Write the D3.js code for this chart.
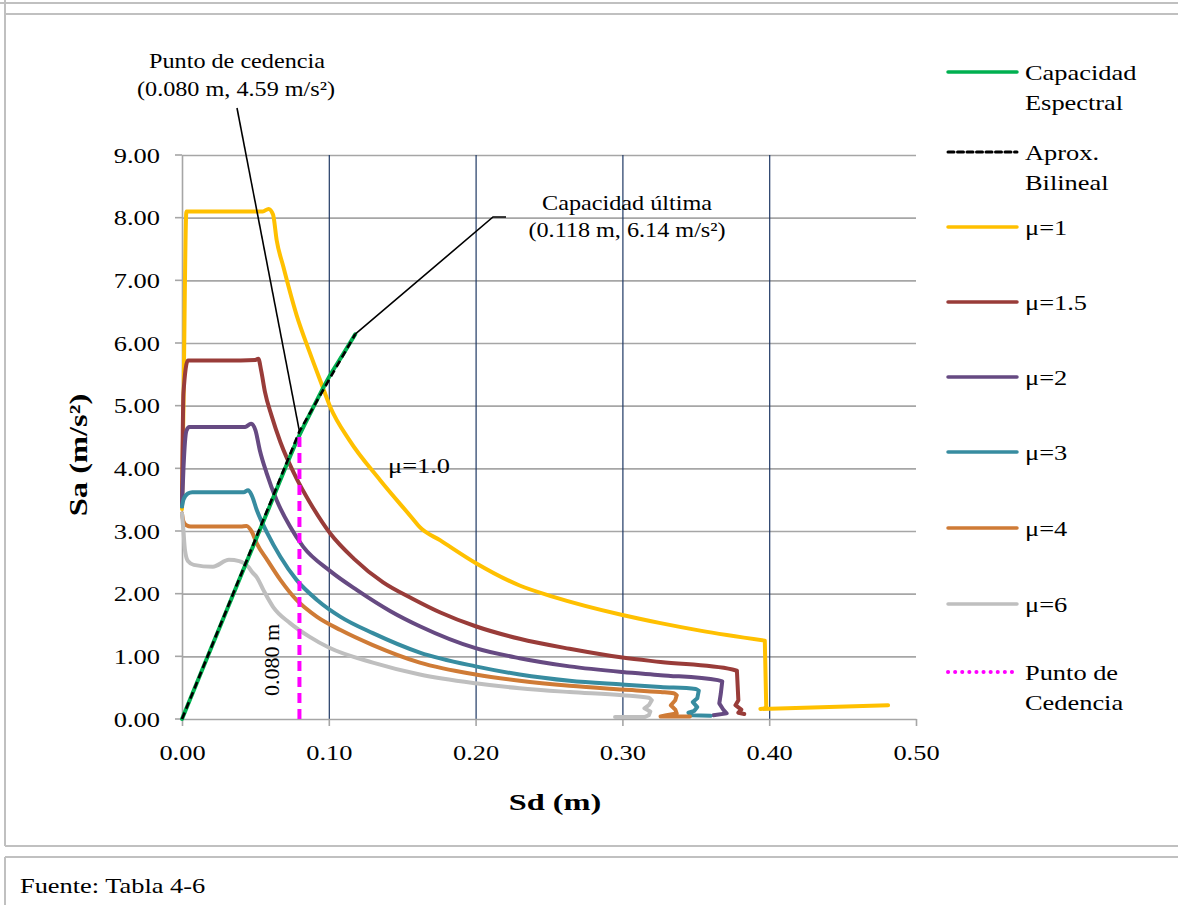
<!DOCTYPE html>
<html>
<head>
<meta charset="utf-8">
<script src="https://cdn.jsdelivr.net/npm/d3@7/dist/d3.min.js"></script>
<style>
  body { margin: 0; background: #fff; }
  text { font-family: "Liberation Serif", "Times New Roman", serif; fill: #000; }
</style>
</head>
<body>
<div class="chart"></div>
<script>
// ---- data ----
const xTicks = [0, 0.1, 0.2, 0.3, 0.4, 0.5];
const yTicks = [0, 1, 2, 3, 4, 5, 6, 7, 8, 9];

const capSd = [0, 0.02, 0.04, 0.06, 0.08, 0.09, 0.10, 0.11, 0.118];
const capSa = [0, 1.14, 2.28, 3.41, 4.53, 5.00, 5.45, 5.83, 6.14];

const bilSd = [0, 0.080, 0.118];
const bilSa = [0, 4.59, 6.14];

const mu1Sd = [0, 0.001, 0.003, 0.03, 0.055, 0.059, 0.062, 0.0645, 0.069, 0.078, 0.087, 0.095, 0.101, 0.114, 0.135, 0.157, 0.162, 0.176, 0.2, 0.23, 0.253, 0.3, 0.326, 0.353, 0.397, 0.398, 0.394, 0.481];
const mu1Sa = [3.35, 5.0, 8.10, 8.10, 8.10, 8.14, 8.05, 7.64, 7.22, 6.45, 5.85, 5.35, 4.98, 4.45, 3.81, 3.20, 3.06, 2.85, 2.49, 2.13, 1.95, 1.66, 1.53, 1.41, 1.25, 0.17, 0.16, 0.22];

const mu15Sd = [0, 0.001, 0.004, 0.03, 0.050, 0.052, 0.054, 0.0565, 0.061, 0.067, 0.078, 0.087, 0.101, 0.117, 0.137, 0.157, 0.176, 0.2, 0.23, 0.264, 0.3, 0.326, 0.375, 0.378, 0.379, 0.377, 0.381, 0.379, 0.383];
const mu15Sa = [3.4, 5.2, 5.72, 5.72, 5.73, 5.75, 5.55, 5.22, 4.84, 4.42, 3.84, 3.46, 2.96, 2.56, 2.18, 1.92, 1.70, 1.48, 1.28, 1.12, 0.98, 0.91, 0.79, 0.77, 0.30, 0.22, 0.15, 0.10, 0.08];

const mu2Sd = [0, 0.001, 0.003, 0.005, 0.043, 0.047, 0.050, 0.053, 0.0577, 0.0645, 0.0736, 0.0825, 0.101, 0.119, 0.142, 0.162, 0.2, 0.23, 0.264, 0.3, 0.326, 0.365, 0.368, 0.367, 0.366, 0.369, 0.371, 0.362];
const mu2Sa = [3.4, 4.0, 4.6, 4.66, 4.66, 4.71, 4.61, 4.29, 3.92, 3.49, 3.07, 2.75, 2.36, 2.06, 1.72, 1.48, 1.13, 0.97, 0.84, 0.75, 0.70, 0.62, 0.60, 0.40, 0.25, 0.14, 0.09, 0.06];

const mu3Sd = [0, 0.001, 0.004, 0.007, 0.042, 0.045, 0.0475, 0.051, 0.058, 0.067, 0.078, 0.092, 0.108, 0.13, 0.162, 0.2, 0.23, 0.264, 0.3, 0.326, 0.350, 0.352, 0.351, 0.348, 0.351, 0.349, 0.345, 0.347, 0.36];
const mu3Sa = [3.39, 3.5, 3.6, 3.62, 3.62, 3.65, 3.57, 3.33, 2.97, 2.59, 2.22, 1.90, 1.63, 1.37, 1.06, 0.84, 0.71, 0.61, 0.55, 0.51, 0.48, 0.45, 0.33, 0.27, 0.19, 0.13, 0.10, 0.06, 0.05];

const mu4Sd = [0, 0.001, 0.003, 0.006, 0.040, 0.044, 0.0475, 0.051, 0.058, 0.067, 0.078, 0.092, 0.108, 0.13, 0.162, 0.2, 0.23, 0.264, 0.3, 0.326, 0.335, 0.337, 0.336, 0.333, 0.336, 0.337, 0.330, 0.326, 0.346];
const mu4Sa = [3.28, 3.15, 3.09, 3.07, 3.07, 3.08, 2.99, 2.80, 2.54, 2.22, 1.90, 1.63, 1.42, 1.18, 0.90, 0.71, 0.61, 0.53, 0.47, 0.43, 0.41, 0.38, 0.30, 0.22, 0.15, 0.09, 0.06, 0.04, 0.04];

const mu6Sd = [0, 0.001, 0.002, 0.004, 0.008, 0.021, 0.032, 0.039, 0.045, 0.048, 0.051, 0.0554, 0.062, 0.0736, 0.087, 0.1, 0.13, 0.162, 0.2, 0.23, 0.264, 0.3, 0.318, 0.320, 0.318, 0.315, 0.319, 0.318, 0.315, 0.295];
const mu6Sa = [3.28, 3.0, 2.7, 2.52, 2.46, 2.43, 2.54, 2.52, 2.43, 2.34, 2.26, 2.06, 1.79, 1.53, 1.31, 1.14, 0.90, 0.71, 0.57, 0.49, 0.43, 0.38, 0.34, 0.30, 0.22, 0.17, 0.12, 0.06, 0.03, 0.03];

const yieldPt = [0.080, 4.59];
const ultPt = [0.118, 6.14];

const legendNames = [['Capacidad', 'Espectral'], ['Aprox.', 'Bilineal'], ['μ=1'], ['μ=1.5'], ['μ=2'], ['μ=3'], ['μ=4'], ['μ=6'], ['Punto de', 'Cedencia']];

// ---- layout ----
const W = 1178, H = 905;
const SX = 1.2; // the original text is a bit wide
const svg = d3.select('.chart').append('svg').attr('width', W).attr('height', H);
svg.append('rect').attr('width', W).attr('height', H).attr('fill', '#fff');

const x = d3.scaleLinear().domain([0, 0.5]).range([182, 916]);
const y = d3.scaleLinear().domain([0, 9]).range([719, 155]);

const zip = function (a, b) { return a.map(function (v, i) { return [v, b[i]]; }); };

const put = function (g, tx, ty, txt, size, opts) {
    opts = opts || {};
    const t = g.append('text')
        .attr('transform', 'translate(' + tx + ',' + ty + ')' + (opts.rot ? ' rotate(-90)' : '') + ' scale(' + (opts.sx || SX) + ',1)')
        .style('font-size', size + 'px')
        .attr('text-anchor', opts.anchor || 'start')
        .text(txt);
    if (opts.bold) t.style('font-weight', 'bold');
    return t;
};

// page frame (document table lines)
const frame = svg.append('g').attr('stroke', '#c0c0c0').attr('stroke-width', 2);
frame.append('line').attr('x1', 0).attr('x2', W).attr('y1', 3).attr('y2', 3);
frame.append('line').attr('x1', 5).attr('x2', W).attr('y1', 14).attr('y2', 14);
frame.append('line').attr('x1', 5).attr('x2', 5).attr('y1', 0).attr('y2', 846);
frame.append('line').attr('x1', 5).attr('x2', W).attr('y1', 846).attr('y2', 846);
frame.append('line').attr('x1', 5).attr('x2', W).attr('y1', 857).attr('y2', 857);
frame.append('line').attr('x1', 5).attr('x2', 5).attr('y1', 857).attr('y2', H);

// grid
svg.append('g').attr('transform', 'translate(182,0)')
    .call(d3.axisLeft(y).tickValues(yTicks.slice(1)).tickSize(-(916 - 182)).tickFormat(''))
    .call(function (g) {
        g.select('.domain').remove();
        g.selectAll('line').attr('stroke', '#a6a6a6').attr('stroke-width', 1.6);
    });
svg.append('g').attr('transform', 'translate(0,719)')
    .call(d3.axisBottom(x).tickValues([0.1, 0.2, 0.3, 0.4]).tickSize(-(719 - 155)).tickFormat(''))
    .call(function (g) {
        g.select('.domain').remove();
        g.selectAll('line').attr('stroke', '#1f3864').attr('stroke-width', 1.2);
    });

// axes
svg.append('g').attr('transform', 'translate(182,0)')
    .call(d3.axisLeft(y).tickValues(yTicks).tickSize(7).tickSizeOuter(0).tickFormat(d3.format('.2f')))
    .call(function (g) {
        g.select('.domain').attr('stroke', '#a6a6a6').attr('stroke-width', 1.6);
        g.selectAll('line').attr('stroke', '#a6a6a6').attr('stroke-width', 1.6);
        g.selectAll('text').attr('x', null).attr('dy', null)
            .attr('transform', function (d) { return 'translate(-22,' + (y(d) + 7.5) + ') scale(' + SX + ',1)'; })
            .attr('y', null)
            .style('font-size', '22px').style('font-family', '"Liberation Serif", serif');
        g.selectAll('.tick').attr('transform', null);
        g.selectAll('.tick line').attr('transform', function (d) { return 'translate(0,' + y(d) + ')'; });
    });
svg.append('g').attr('transform', 'translate(0,719)')
    .call(d3.axisBottom(x).tickValues(xTicks).tickSize(7).tickSizeOuter(0).tickFormat(d3.format('.2f')))
    .call(function (g) {
        g.select('.domain').attr('stroke', '#a6a6a6').attr('stroke-width', 1.6);
        g.selectAll('line').attr('stroke', '#a6a6a6').attr('stroke-width', 1.6);
        g.selectAll('text').attr('y', null).attr('dy', null)
            .attr('transform', 'translate(0,41) scale(' + SX + ',1)')
            .style('font-size', '22px').style('font-family', '"Liberation Serif", serif');
    });

// series: smooth (monotone in x) up to the knee of the tail, straight pieces after
const smooth = d3.line().x(function (d) { return x(d[0]); }).y(function (d) { return y(d[1]); })
    .curve(d3.curveMonotoneX);
const straight = d3.line().x(function (d) { return x(d[0]); }).y(function (d) { return y(d[1]); });
const spectrumPath = function (pts, knee) {
    return smooth(pts.slice(0, knee + 1)) + straight(pts.slice(knee));
};

const muSeries = [
    { pts: zip(mu1Sd, mu1Sa), knee: 24, color: '#ffc000' },
    { pts: zip(mu15Sd, mu15Sa), knee: 23, color: '#993c39' },
    { pts: zip(mu2Sd, mu2Sa), knee: 22, color: '#664a82' },
    { pts: zip(mu3Sd, mu3Sa), knee: 21, color: '#378ca0' },
    { pts: zip(mu4Sd, mu4Sa), knee: 21, color: '#cf7b36' },
    { pts: zip(mu6Sd, mu6Sa), knee: 23, color: '#bfbfbf' }
];

const plot = svg.append('g');
plot.selectAll('path.mu').data(muSeries).enter().append('path')
    .attr('class', 'mu')
    .attr('d', function (d) { return spectrumPath(d.pts, d.knee); })
    .attr('fill', 'none')
    .attr('stroke', function (d) { return d.color; })
    .attr('stroke-width', 4)
    .attr('stroke-linejoin', 'round')
    .attr('stroke-linecap', 'round');

plot.append('path').attr('d', smooth(zip(capSd, capSa)))
    .attr('fill', 'none').attr('stroke', '#00b050').attr('stroke-width', 4).attr('stroke-linecap', 'round');
plot.append('path').attr('d', straight(zip(bilSd, bilSa)))
    .attr('fill', 'none').attr('stroke', '#000').attr('stroke-width', 2.6).attr('stroke-dasharray', '7,4');
plot.append('path').attr('d', straight([[yieldPt[0], 0], yieldPt]))
    .attr('fill', 'none').attr('stroke', '#ff00ff').attr('stroke-width', 4).attr('stroke-dasharray', '10,6');

// annotations
const ann = svg.append('g');
ann.append('line').attr('x1', 237).attr('y1', 108).attr('x2', x(yieldPt[0])).attr('y2', y(yieldPt[1]))
    .attr('stroke', '#000').attr('stroke-width', 1.6);
ann.append('polyline').attr('points', [[x(ultPt[0]), y(ultPt[1])], [493, 217], [506, 217]].map(function (p) { return p.join(','); }).join(' '))
    .attr('fill', 'none').attr('stroke', '#000').attr('stroke-width', 1.6);
put(ann, 237, 68, 'Punto de cedencia', 22, { anchor: 'middle', sx: 1.1 });
put(ann, 236, 96, '(0.080 m, 4.59 m/s²)', 22, { anchor: 'middle', sx: 1.1 });
put(ann, 627, 210, 'Capacidad última', 22, { anchor: 'middle', sx: 1.1 });
put(ann, 627, 237, '(0.118 m, 6.14 m/s²)', 22, { anchor: 'middle', sx: 1.1 });
put(ann, 388, 473, 'μ=1.0', 22, {});
put(ann, 279, 660, '0.080 m', 22, { anchor: 'middle', rot: true, sx: 1 });

// axis titles
put(svg, 555, 810, 'Sd (m)', 24, { anchor: 'middle', bold: true, sx: 1.35 });
put(svg, 87, 455, 'Sa (m/s²)', 25, { anchor: 'middle', bold: true, rot: true, sx: 1.3 });

// legend
const legendStyle = [
    { color: '#00b050', dash: null, w: 3.5 },
    { color: '#000', dash: '6,3.5', w: 3 },
    { color: '#ffc000', dash: null, w: 3.5 },
    { color: '#993c39', dash: null, w: 3.5 },
    { color: '#664a82', dash: null, w: 3.5 },
    { color: '#378ca0', dash: null, w: 3.5 },
    { color: '#cf7b36', dash: null, w: 3.5 },
    { color: '#bfbfbf', dash: null, w: 3.5 },
    { color: '#ff00ff', dash: '0.1,7', w: 4 }
];
const legendY = [72, 152, 227, 302, 377, 452, 528, 604, 672];
const legend = svg.append('g').attr('class', 'legend');
legendNames.forEach(function (lines, i) {
    const st = legendStyle[i];
    const ly = legendY[i];
    legend.append('line').attr('x1', 948).attr('x2', 1017).attr('y1', ly).attr('y2', ly)
        .attr('stroke', st.color).attr('stroke-width', st.w)
        .attr('stroke-dasharray', st.dash)
        .attr('stroke-linecap', 'round');
    lines.forEach(function (s, j) {
        put(legend, 1025, ly + 7.5 + j * 30, s, 22, {});
    });
});

// footer
put(svg, 20, 893, 'Fuente: Tabla 4-6', 22, {});
</script>
</body>
</html>
